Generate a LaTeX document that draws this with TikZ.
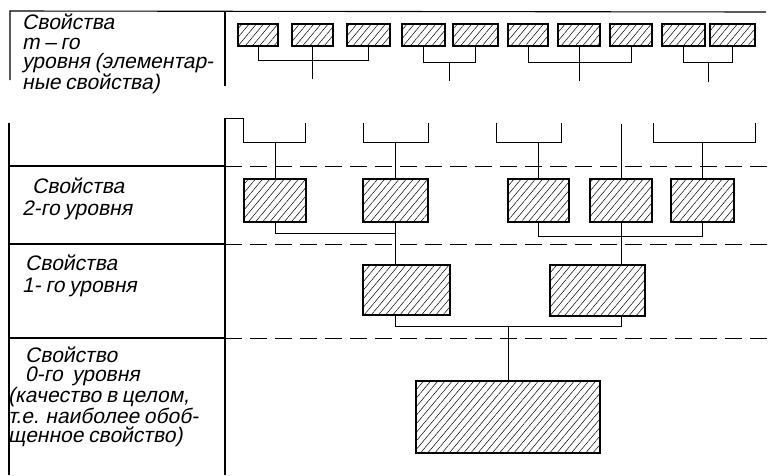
\documentclass[tikz,border=0pt]{standalone}
\usepackage{fontspec}
\newfontfamily\gost[FakeSlant=0.2,WordSpace=0.8]{Liberation Sans}
\usetikzlibrary{calc, patterns.meta}

\tikzset{
  cell/.style={draw, line width=1.5pt, inner sep=0pt,
    pattern={Lines[angle=50,distance=5.5pt,line width=0.5pt]}},
  wire/.style={line width=0.8pt},
  rule/.style={line width=1.1pt},
  sep/.style={line width=1pt, dash pattern=on 17pt off 8pt},
  caption/.style={anchor=north west, inner sep=0pt, align=left,
    font=\gost\fontsize{21}{22}\selectfont},
}

\begin{document}
\begin{tikzpicture}[x=1pt, y=-1pt]
  \useasboundingbox (0,0) rectangle (768,475);

  % верхняя часть: свойства m-го уровня
  \draw[rule] (10,80) -- (10,11) -- (766,12);
  \draw[rule] (225,11) -- (225,86);
  \node[caption, font=\gost\fontsize{21}{19.5}\selectfont] (tm) at (22,14)
    {Свойства\\m – го\\уровня (элементар-\\ные свойства)};

  \foreach \n/\a/\b in {1/238/278, 2/292/333, 3/347/390, 4/402/445, 5/453/498,
                        6/508/548, 7/558/600, 8/610/652, 9/662/705, 10/710/755} {
    \node[cell, minimum width={\b-\a}, minimum height=22] (m\n) at ({(\a+\b)/2},35) {};
  }

  % группы элементарных свойств
  \draw[wire] (m1.south) -- ++(0,14) coordinate (g1) -| (m3.south);
  \draw[wire] (m2.south) -- ++(0,32);
  \draw[wire] (m4.south) -- ++(0,16) coordinate (g2) -| (m5.south);
  \draw[wire] ($(g2)!0.5!(g2 -| m5.south)$) -- ++(0,18);
  \draw[wire] (m6.south) -- ++(0,16) coordinate (g3) -| (m8.south);
  \draw[wire] (m7.south) -- ++(0,34);
  \draw[wire] (m9.south) -- ++(0,16) coordinate (g4) -| (m10.south);
  \draw[wire] ($(g4)!0.5!(g4 -| m10.south)$) -- ++(0,19);

  % таблица уровней
  \draw[rule] (9,123) -- (9,475);
  \draw[rule] (225,475) -- (225,118);
  \foreach \y in {166,244,338} {
    \draw[rule] (9,\y) -- (225,\y);
    \draw[sep] (225,\y) -- (768,\y);
  }

  \node[caption] (t2) at (22,178) {\hspace*{10pt}Свойства\\2-го уровня};
  \node[caption] (t1) at (22,255) {\hspace*{3pt}Свойства\\1- го уровня};
  \node[caption, font=\gost\fontsize{21}{19}\selectfont] (t0) at (8,347)
    {\hspace*{17pt}Свойство\\\hspace*{17pt}0-го\ \ уровня\\(качество в целом,\\т.е. наиболее обоб-\\щенное свойство)};

  % свойства 2-го уровня
  \foreach \n/\a/\b in {a/244/306, b/363/428, c/508/569, d/590/652, e/671/734} {
    \node[cell, minimum width={\b-\a}, minimum height=43] (l2\n) at ({(\a+\b)/2},200.5) {};
  }

  % свойства 1-го и 0-го уровня
  \node[cell, minimum width=87, minimum height=50] (l1a) at (406.5,290) {};
  \node[cell, minimum width=95, minimum height=51] (l1b) at (597.5,290.5) {};
  \node[cell, minimum width=184, minimum height=72] (l0) at (508,417) {};

  % связи сверху
  \coordinate (top) at (0,142);
  \draw[wire] (225,118) -- (243,118) -- (243,142) -- (305,142) -- (305,123);
  \draw[wire] (l2a.north) -- (l2a.north |- top);
  \foreach \n/\a/\b in {b/363/428, c/496/561, e/653/755} {
    \draw[wire] (\a,123) -- (\a,142) -- (\b,142) -- (\b,123);
    \draw[wire] (l2\n.north) -- (l2\n.north |- top);
  }
  \draw[wire] (l2d.north) -- ++(0,-54);

  % связи между уровнями
  \draw[wire] (l2a.south) -- ++(0,11) -| (l2b.south);
  \draw[wire] (l2b.south) -- (l2b.south |- l1a.north);
  \draw[wire] (l2c.south) -- ++(0,14) -| (l2e.south);
  \draw[wire] (l2d.south) -- (l2d.south |- l1b.north);
  \draw[wire] (l2b.south |- l1a.south) -- ++(0,11) coordinate (j1) -| (l2d.south |- l1b.south);
  \draw[wire] (l0.north) -- (l0.north |- j1);
\end{tikzpicture}
\end{document}
